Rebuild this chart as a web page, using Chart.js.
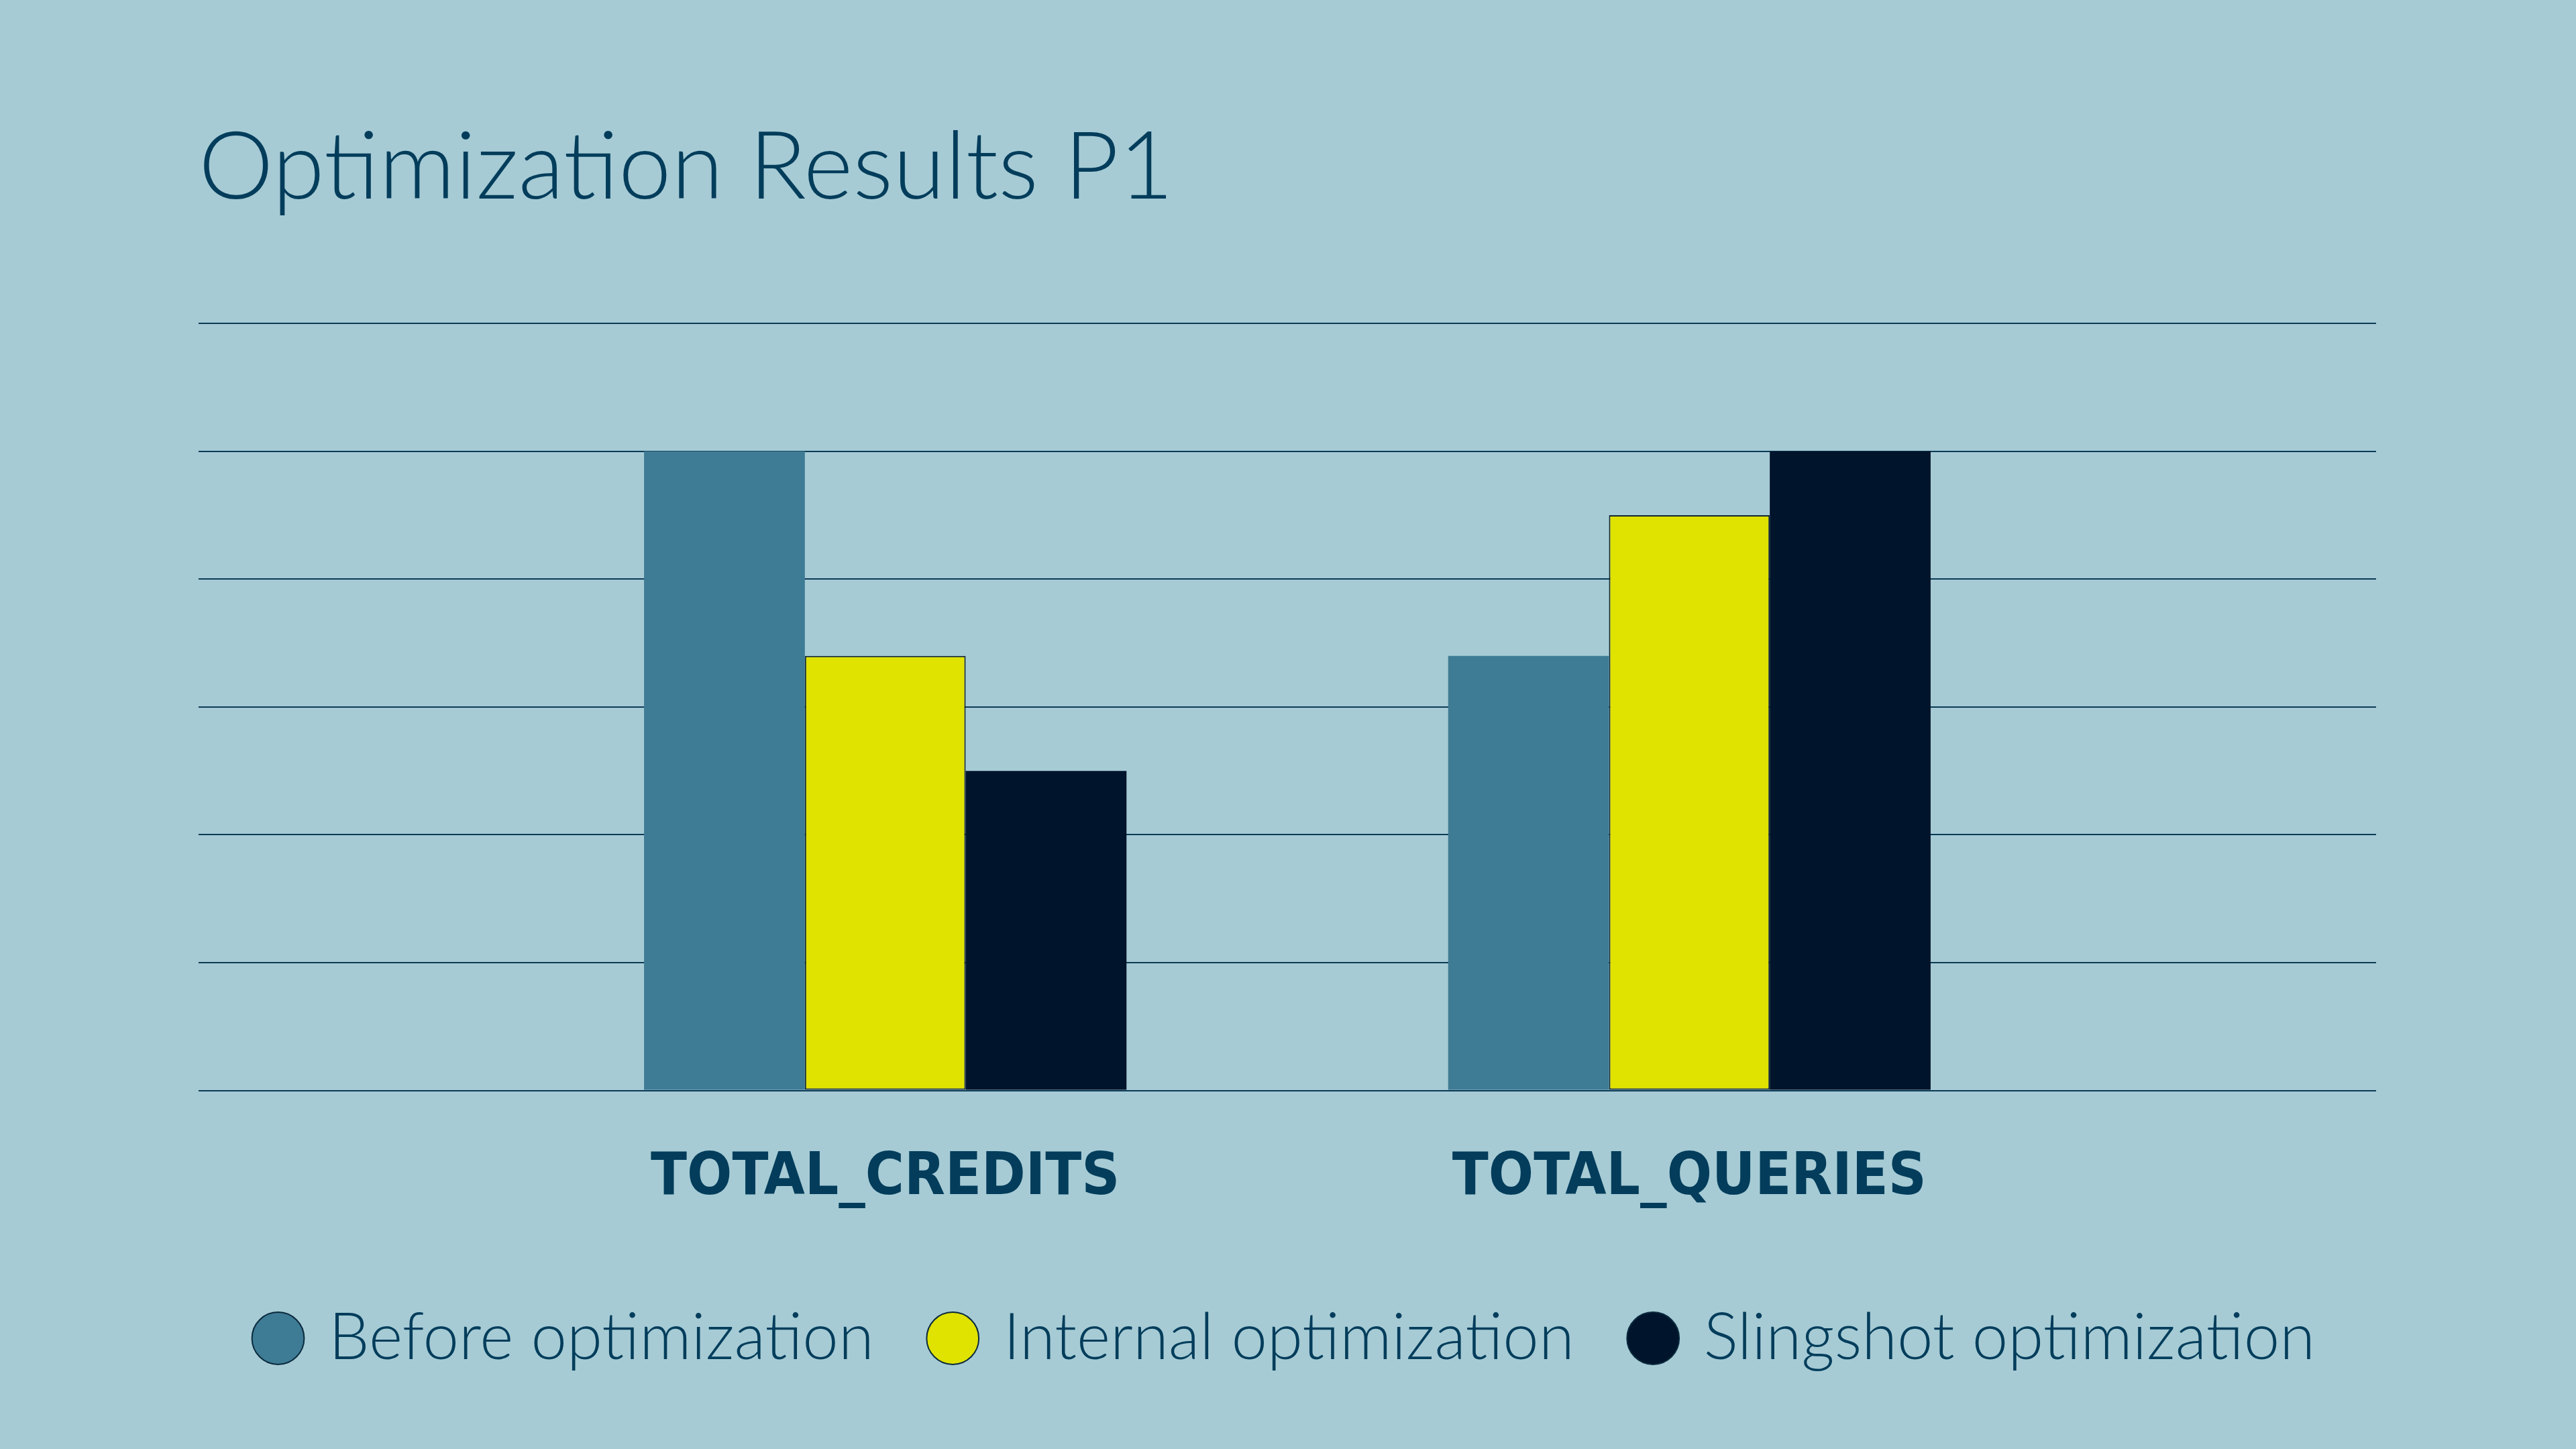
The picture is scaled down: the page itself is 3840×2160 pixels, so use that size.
<!DOCTYPE html>
<html>
<head>
<meta charset="utf-8">
<title>Optimization Results P1</title>
<script src="https://cdn.jsdelivr.net/npm/chart.js@4/dist/chart.umd.min.js"></script>
<style>
    html, body {
        margin: 0;
        padding: 0;
        background: #a6cbd5;
    }
    #resultsChart {
        display: block;
    }
</style>
</head>
<body>
<canvas id="resultsChart" width="3840" height="2160"></canvas>
<script>
const categories = ["TOTAL_CREDITS", "TOTAL_QUERIES"];
const seriesNames = ["Before optimization", "Internal optimization", "Slingshot optimization"];
const beforeValues = [100, 68];
const internalValues = [68, 90];
const slingshotValues = [50, 100];
const yTicks = [0, 20, 40, 60, 80, 100, 120];

const textColor = "#033d5b";
const lightFont = "Lato, 'Liberation Sans', sans-serif";
const boldFont = "'DejaVu Sans Condensed', 'Liberation Sans', sans-serif";
const legendGap = 90;

function toPoints(values) {
    return values.map((value, i) => ({ x: i, y: value }));
}

document.addEventListener("DOMContentLoaded", () => {
    const canvas = document.getElementById("resultsChart");

    new Chart(canvas, {
        type: "bar",
        data: {
            datasets: [
                {
                    label: seriesNames[0],
                    data: toPoints(beforeValues),
                    backgroundColor: "#3e7b95",
                    borderWidth: 0,
                },
                {
                    label: seriesNames[1],
                    data: toPoints(internalValues),
                    backgroundColor: "#e0e200",
                    borderColor: "#14272f",
                    borderWidth: 2,
                    borderSkipped: false,
                },
                {
                    label: seriesNames[2],
                    data: toPoints(slingshotValues),
                    backgroundColor: "#00142b",
                    borderWidth: 0,
                },
            ],
        },
        options: {
            responsive: false,
            animation: false,
            devicePixelRatio: 1,
            layout: {
                padding: { top: 166, left: 296, right: 298, bottom: 107 },
            },
            datasets: {
                bar: {
                    categoryPercentage: 0.6,
                    barPercentage: 1,
                },
            },
            scales: {
                x: {
                    type: "linear",
                    min: -0.854,
                    max: 1.854,
                    offset: false,
                    grid: { display: false, drawTicks: false },
                    border: { display: false },
                    afterBuildTicks: (scale) => {
                        scale.ticks = categories.map((c, i) => ({ value: i }));
                    },
                    afterFit: (scale) => {
                        // leaves room so the legend row sits where the original has it
                        scale.height = 321.5 - legendGap;
                    },
                    ticks: {
                        autoSkip: false,
                        maxRotation: 0,
                        padding: 79,
                        color: textColor,
                        font: { family: boldFont, size: 88, weight: "bold" },
                        callback: (value) => categories[value],
                    },
                },
                y: {
                    min: yTicks[0],
                    max: yTicks[yTicks.length - 1],
                    grid: {
                        color: "#0b3a55",
                        lineWidth: 2,
                        drawTicks: false,
                    },
                    border: { display: false },
                    afterBuildTicks: (scale) => {
                        scale.ticks = yTicks.map((v) => ({ value: v }));
                    },
                    ticks: { display: false },
                },
            },
            plugins: {
                tooltip: { enabled: false },
                title: {
                    display: true,
                    text: "Optimization Results P1",
                    align: "start",
                    color: textColor,
                    font: { family: lightFont, size: 141, weight: 300 },
                    padding: { top: 0, bottom: 147 },
                },
                legend: {
                    position: "bottom",
                    labels: {
                        usePointStyle: true,
                        pointStyle: "circle",
                        boxWidth: 55,
                        boxHeight: 55,
                        padding: legendGap,
                        color: textColor,
                        font: { family: lightFont, size: 96, weight: 300 },
                        generateLabels: (chart) => {
                            const items = Chart.defaults.plugins.legend.labels.generateLabels(chart);
                            items.forEach((item) => {
                                item.strokeStyle = "#0b2a3d";
                                item.lineWidth = 2;
                            });
                            return items;
                        },
                    },
                },
            },
        },
    });
});
</script>
</body>
</html>
